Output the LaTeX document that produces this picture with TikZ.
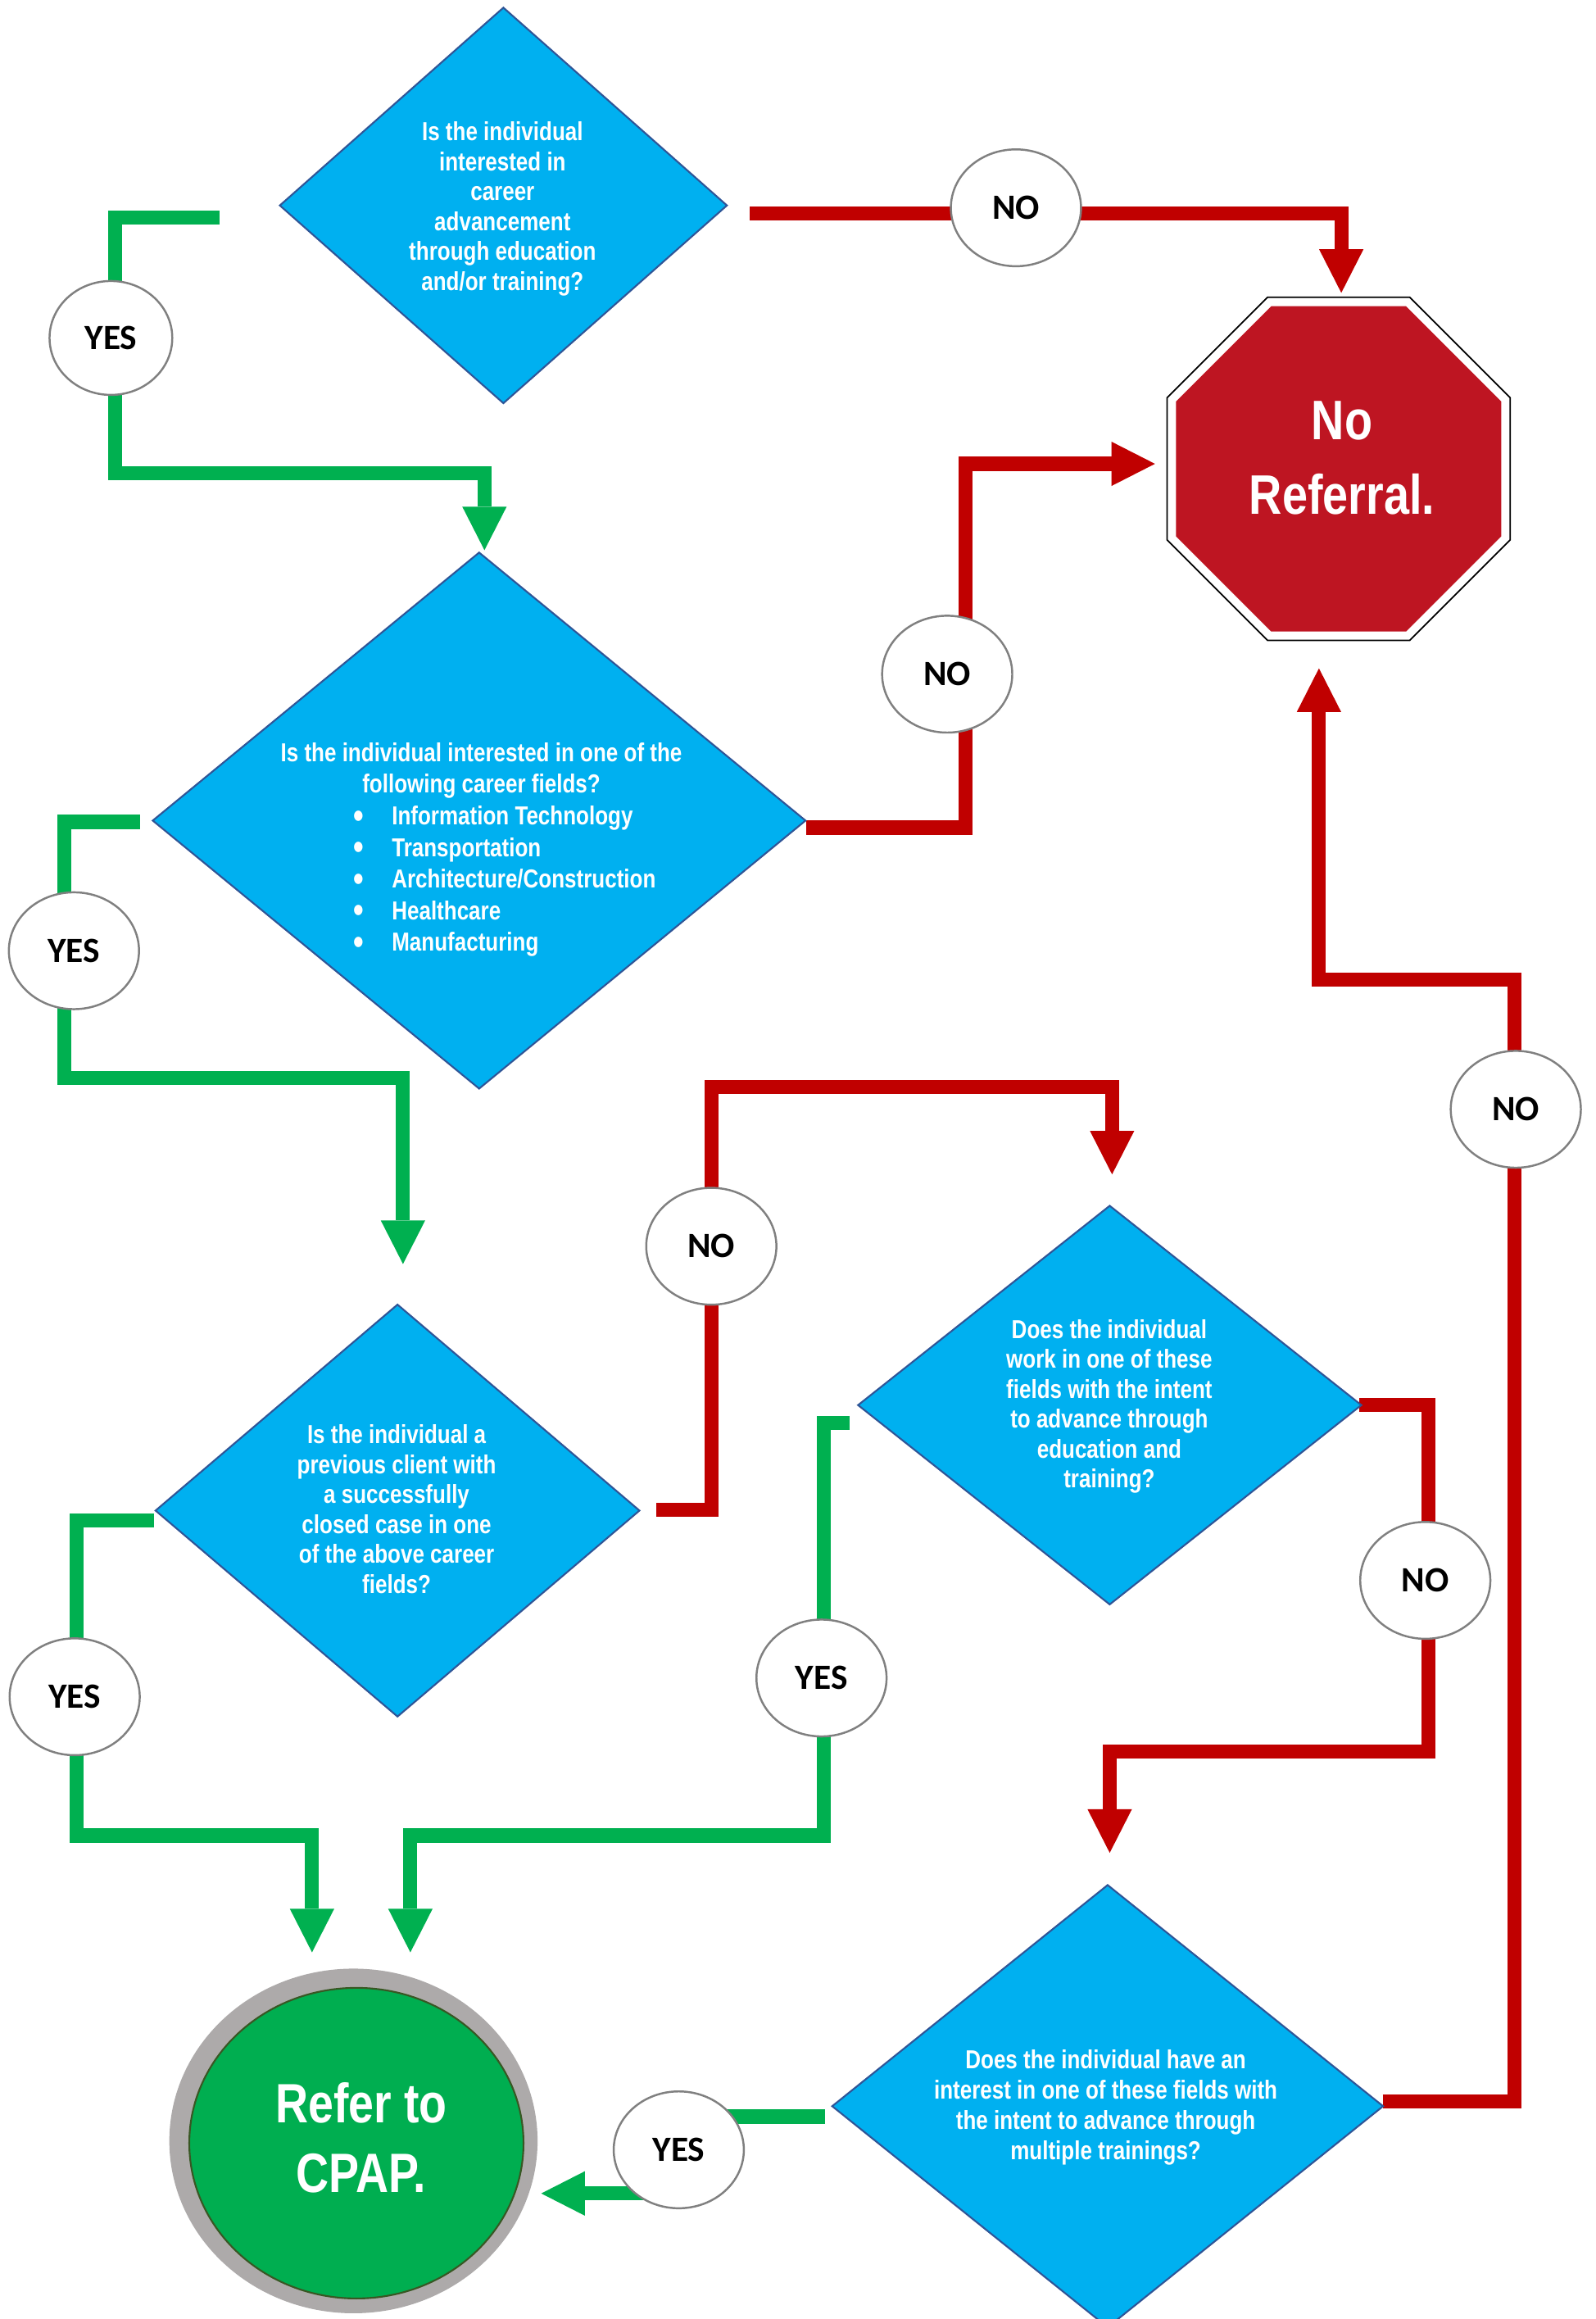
\documentclass[tikz,border=0pt]{standalone}
\usepackage{fontspec}
\newfontfamily\narrowfont[FakeStretch=0.82]{Liberation Sans}
\newfontfamily\labelfont{Carlito}
\usetikzlibrary{shapes.geometric,arrows.meta}
\definecolor{qblue}{RGB}{0,176,240}
\definecolor{qborder}{RGB}{47,85,151}
\definecolor{lgreen}{RGB}{0,176,80}
\definecolor{lred}{RGB}{192,0,0}
\definecolor{stopred}{RGB}{190,21,34}
\definecolor{cpapgreen}{RGB}{0,174,80}
\definecolor{cpapgray}{RGB}{173,170,170}
\definecolor{cpapedge}{RGB}{56,87,35}
\definecolor{labeledge}{RGB}{128,128,128}
\newcommand\bigbullet{\makebox[0.47cm][l]{\raisebox{-1pt}{\fontsize{12.5pt}{12.5pt}\selectfont\textbullet}}}
\begin{document}
\begin{tikzpicture}[x=0.018cm, y=-0.018cm,
  question/.style={diamond, fill=qblue, draw=qborder, line width=0.6pt, inner sep=0pt},
  qtext/.style={text=white, inner sep=0pt, align=center,
    font=\narrowfont\bfseries\fontsize{9pt}{10.36pt}\selectfont},
  answer/.style={ellipse, fill=white, draw=labeledge, line width=0.7pt, inner sep=0pt,
    minimum width=88*0.018cm, minimum height=79*0.018cm,
    font=\labelfont\bfseries\fontsize{12.3pt}{14pt}\selectfont},
  bigtext/.style={text=white, inner sep=0pt, align=center},
  gline/.style={draw=lgreen, line width=0.171cm, line join=miter},
  rline/.style={draw=lred, line width=0.171cm, line join=miter},
  arr/.style={-{Triangle[width=0.54cm,length=0.53cm,line width=0pt]}}
]
\fill[white] (0,0) rectangle (1079.2,1567.9);
\useasboundingbox (0,0) rectangle (1079.2,1567.9);

% connector ends
\coordinate (c1s) at (148.4,147.1);  \coordinate (t1) at (327.6,372);
\coordinate (c2s) at (507,144.1);    \coordinate (t2) at (907,198);
\coordinate (c3s) at (94.5,555.7);   \coordinate (t3) at (272.5,854.6);
\coordinate (c4s) at (545,559.6);    \coordinate (t4) at (781,313.6);
\coordinate (c5s) at (444,1020.6);   \coordinate (t5) at (752,794);
\coordinate (c6s) at (574.5,962);    \coordinate (t6) at (277.5,1320);
\coordinate (c7s) at (104,1028);     \coordinate (t7) at (211,1320);
\coordinate (c8s) at (919,950);      \coordinate (t8) at (750.4,1252.7);
\coordinate (c9s) at (935,1421);     \coordinate (t9) at (891.9,451.9);
\coordinate (c10s) at (557.7,1431);  \coordinate (t10) at (366,1483);

% connectors
\draw[gline,arr] (c1s) -| (78,320) -| (t1);
\draw[rline,arr] (c2s) -| (t2);
\draw[gline,arr] (c3s) -| (43.5,729) -| (t3);
\draw[rline,arr] (c4s) -| (653,313.6) -- (t4);
\draw[rline,arr] (c5s) -| (481,735) -| (t5);
\draw[gline,arr] (c6s) -| (557,1241) -| (t6);
\draw[gline,arr] (c7s) -| (51.8,1241) -| (t7);
\draw[rline,arr] (c8s) -| (966,1184) -| (t8);
\draw[rline,arr] (c9s) -| (1024,662.4) -| (t9);
\draw[gline,arr] (c10s) -| (459,1483) -- (t10);

% decision diamonds
\node[question, minimum width=302.8*0.018cm, minimum height=267.9*0.018cm] (D1) at (340.4,138.9) {};
\node[qtext] (D1t) at (339.8,141.3) {Is the individual\\interested in\\career\\advancement\\through education\\and/or training?};

\node[question, minimum width=441.9*0.018cm, minimum height=362.9*0.018cm] (D2) at (324,554.8) {};
\node[qtext, font=\narrowfont\bfseries\fontsize{9pt}{10.7pt}\selectfont] (D2t) at (325.5,521) {Is the individual interested in one of the\\following career fields?};
\node[qtext, align=left, anchor=west, font=\narrowfont\bfseries\fontsize{9pt}{10.94pt}\selectfont] (D2b) at (238.5,595.9)
  {\bigbullet Information Technology\\
   \bigbullet Transportation\\
   \bigbullet Architecture/Construction\\
   \bigbullet Healthcare\\
   \bigbullet Manufacturing};

\node[question, minimum width=327.7*0.018cm, minimum height=279*0.018cm] (D3) at (268.8,1021.3) {};
\node[qtext] (D3t) at (268.2,1020.3) {Is the individual a\\previous client with\\a successfully\\closed case in one\\of the above career\\fields?};

\node[question, minimum width=340.8*0.018cm, minimum height=270*0.018cm] (D4) at (750.4,950) {};
\node[qtext] (D4t) at (750.1,950.9) {Does the individual\\work in one of these\\fields with the intent\\to advance through\\education and\\training?};

\node[question, minimum width=373*0.018cm, minimum height=299.5*0.018cm] (D5) at (749,1424) {};
\node[qtext, font=\narrowfont\bfseries\fontsize{9pt}{10.5pt}\selectfont] (D5t) at (747.7,1424.6) {Does the individual have an\\interest in one of these fields with\\the intent to advance through\\multiple trainings?};

% stop sign
\node[regular polygon, regular polygon sides=8, minimum size=251.1*0.018cm, inner sep=0pt,
  fill=white, draw=black, line width=0.5pt] (stop) at (905.2,317) {};
\node[regular polygon, regular polygon sides=8, minimum size=238.1*0.018cm, inner sep=0pt,
  fill=stopred] (stopin) at (905.2,317) {};
\node[bigtext, font=\narrowfont\bfseries\fontsize{19.3pt}{25.76pt}\selectfont] (stoptext) at (907.5,309.7) {No\\Referral.};

% refer to CPAP
\node[ellipse, fill=cpapgray, inner sep=0pt, minimum width=249*0.018cm, minimum height=233*0.018cm] (cpap) at (239,1447.5) {};
\node[ellipse, fill=cpapgreen, draw=cpapedge, line width=0.6pt, inner sep=0pt,
  minimum width=226*0.018cm, minimum height=210*0.018cm] (cpapin) at (241,1449) {};
\node[bigtext, font=\narrowfont\bfseries\fontsize{19.2pt}{24.12pt}\selectfont] (cpaptext) at (244.3,1445.4) {Refer to\\CPAP.};

% answer labels
\node[answer, minimum width=83*0.018cm, minimum height=77*0.018cm] (yes1) at (75,228.5) {YES};
\node[answer] (no1) at (687,140.5) {NO};
\node[answer] (no2) at (640.5,455.8) {NO};
\node[answer] (yes2) at (50,642.8) {YES};
\node[answer] (no3) at (481,842.6) {NO};
\node[answer] (no4) at (1025,750) {NO};
\node[answer] (yes3) at (50.5,1147.2) {YES};
\node[answer] (yes4) at (555.5,1134.5) {YES};
\node[answer] (no5) at (963.8,1068.5) {NO};
\node[answer] (yes5) at (459,1453.5) {YES};
\end{tikzpicture}
\end{document}
